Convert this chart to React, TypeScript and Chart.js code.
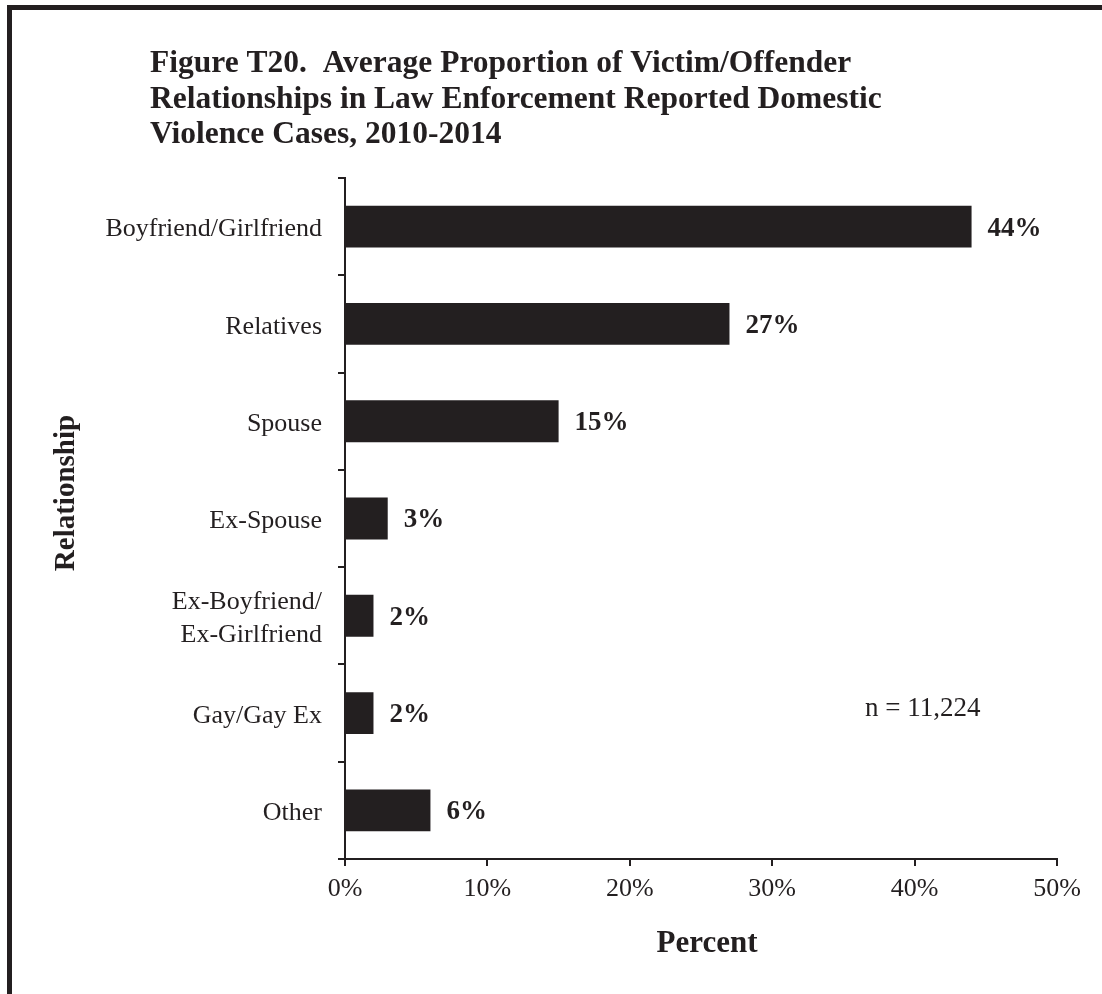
import React, { useEffect, useRef } from "react";
import { Chart, registerables } from "chart.js";

Chart.register(...registerables);

const categories: (string | string[])[] = [
  "Boyfriend/Girlfriend",
  "Relatives",
  "Spouse",
  "Ex-Spouse",
  ["Ex-Boyfriend/", "Ex-Girlfriend"],
  "Gay/Gay Ex",
  "Other",
];
const values: number[] = [44, 27, 15, 3, 2, 2, 6];
const xTicks: number[] = [0, 10, 20, 30, 40, 50];
const titleLines: string[] = [
  "Figure T20.  Average Proportion of Victim/Offender",
  "Relationships in Law Enforcement Reported Domestic",
  "Violence Cases, 2010-2014",
];
const xTitle = "Percent";
const yTitle = "Relationship";
const noteText = "n = 11,224";

const INK = "#231f20";
const SERIF = "'Liberation Serif', 'Times New Roman', serif";

const decorPlugin = {
  id: "decor",
  afterDraw(chart: any) {
    const ctx = chart.ctx as CanvasRenderingContext2D;
    const area = chart.chartArea;
    ctx.save();
    // frame lines (top and left)
    ctx.fillStyle = INK;
    ctx.fillRect(7, 5, 1095, 5);
    ctx.fillRect(7, 5, 5, 989);

    // title
    ctx.fillStyle = INK;
    ctx.textAlign = "left";
    ctx.textBaseline = "alphabetic";
    ctx.font = `bold 31.5px ${SERIF}`;
    titleLines.forEach((t, i) => ctx.fillText(t, 150, 72 + i * 35.5));

    // data labels
    const meta = chart.getDatasetMeta(0);
    ctx.font = `bold 27px ${SERIF}`;
    ctx.textBaseline = "middle";
    meta.data.forEach((bar: any, i: number) => {
      ctx.fillText(`${values[i]}%`, bar.x + 16, bar.y + 2);
    });

    // x axis title
    ctx.textAlign = "center";
    ctx.textBaseline = "alphabetic";
    ctx.font = `bold 31px ${SERIF}`;
    ctx.fillText(xTitle, 707, 952);

    // y axis title
    ctx.save();
    ctx.translate(74, 493);
    ctx.rotate(-Math.PI / 2);
    ctx.font = `bold 29px ${SERIF}`;
    ctx.fillText(yTitle, 0, 0);
    ctx.restore();

    // note
    ctx.textAlign = "left";
    ctx.font = `27px ${SERIF}`;
    ctx.fillText(noteText, 865, 716);
    ctx.restore();
  },
};

export default function App() {
  const ref = useRef<HTMLCanvasElement | null>(null);

  useEffect(() => {
    if (!ref.current) return;
    const chart = new Chart(ref.current, {
      type: "bar",
      data: {
        labels: categories,
        datasets: [
          {
            data: values,
            backgroundColor: INK,
            borderWidth: 0,
            categoryPercentage: 1,
            barPercentage: 0.43,
          },
        ],
      },
      options: {
        indexAxis: "y",
        animation: false,
        responsive: false,
        layout: { padding: { top: 178, right: 45, left: 0, bottom: 0 } },
        plugins: {
          legend: { display: false },
          tooltip: { enabled: false },
          title: { display: false },
        },
        scales: {
          x: {
            type: "linear",
            min: 0,
            max: 50,
            afterFit(scale: any) {
              scale.height = 135;
            },
            afterBuildTicks(scale: any) {
              scale.ticks = xTicks.map((v) => ({ value: v }));
            },
            ticks: {
              callback: (v: any) => `${v}%`,
              color: INK,
              font: { family: SERIF, size: 26 },
              padding: 8,
              maxRotation: 0,
            },
            grid: {
              display: true,
              drawOnChartArea: false,
              drawTicks: true,
              tickLength: 7,
              color: INK,
              lineWidth: 2,
            },
            border: { display: true, color: INK, width: 2 },
          },
          y: {
            type: "category",
            offset: true,
            afterFit(scale: any) {
              scale.width = 345;
            },
            ticks: {
              color: INK,
              font: { family: SERIF, size: 26, lineHeight: 1.25 },
              padding: 16,
              labelOffset: 3,
            },
            grid: {
              display: true,
              offset: true,
              drawOnChartArea: false,
              drawTicks: true,
              tickLength: 7,
              color: INK,
              lineWidth: 2,
            },
            border: { display: true, color: INK, width: 2 },
          },
        },
      },
      plugins: [decorPlugin],
    });
    return () => chart.destroy();
  }, []);

  return (
    <div style={{ position: "absolute", left: 0, top: 0, width: 1102, height: 994, background: "#fff" }}>
      <canvas ref={ref} width={1102} height={994} style={{ display: "block" }} />
    </div>
  );
}
